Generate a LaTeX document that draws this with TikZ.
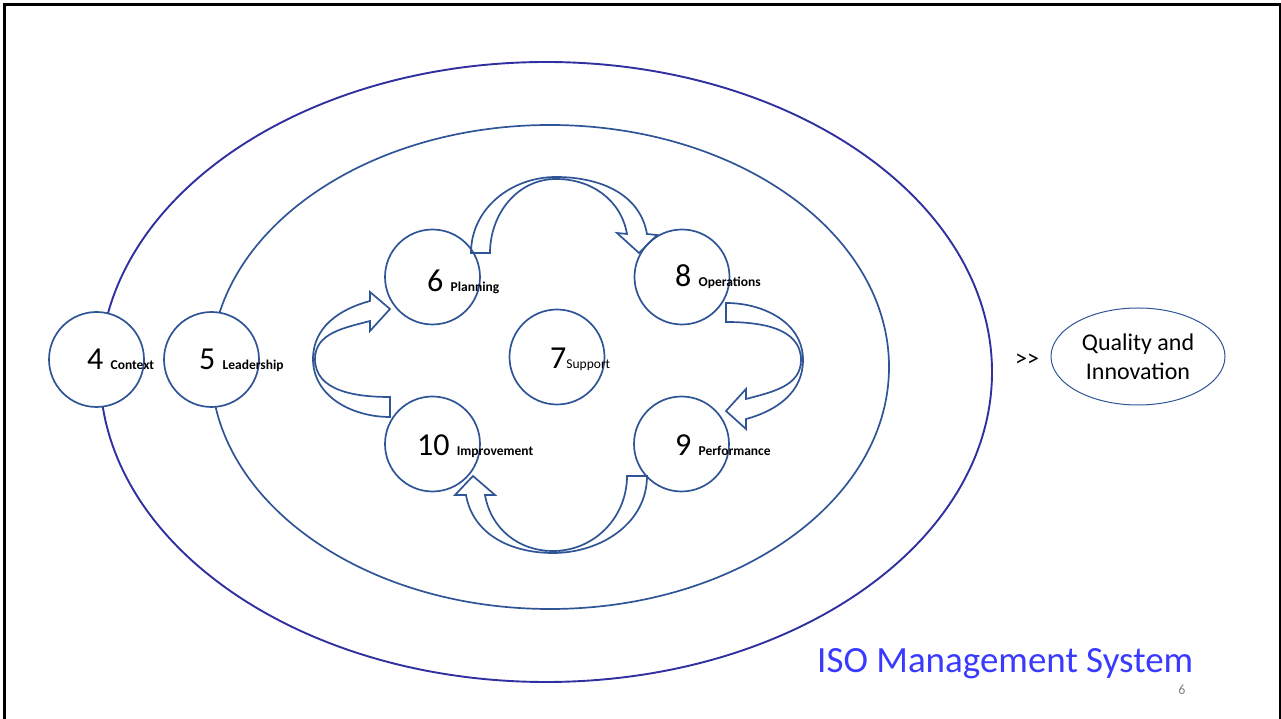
\documentclass[tikz,border=0pt]{standalone}
\usepackage{fontspec}
\setmainfont{Carlito}
\usetikzlibrary{shapes.geometric}

\definecolor{clauseblue}{RGB}{47,85,151}
\definecolor{ringblue}{RGB}{48,48,160}
\definecolor{isoblue}{RGB}{58,58,255}
\newcommand{\clabel}[1]{{\fontsize{13.5}{16}\selectfont\bfseries #1}}

\begin{document}
\begin{tikzpicture}
		[x=1pt,y=1pt,line cap=round,
		%Styles
		outer ring/.style={draw=ringblue,line width=1.9pt},
		inner ring/.style={draw=clauseblue,line width=1.7pt},
		clause/.style={circle,draw=clauseblue,fill=white,line width=1.7pt,minimum size=95pt,inner sep=0pt},
		clause text/.style={anchor=base west,inner sep=0pt,font=\fontsize{32}{38}\selectfont},
		block arrow/.style={draw=clauseblue,line width=1.7pt,line join=miter}
		]
		
		\useasboundingbox (0,0) rectangle (1281,719);
		
		%Frame
		\draw[line width=2.5pt,line cap=rect] (4.5,0) -- (4.5,714.5) -- (1280,714.5) -- (1280,0);
		
		%The rings
		\draw[outer ring] (546,347) ellipse [x radius=446,y radius=310];
		\draw[inner ring] (550,352) ellipse [x radius=339,y radius=242];
		
		%The clauses
		\node[clause] (ctx) at (96.5,359.5) {};
		\node[clause] (lead) at (211.5,359.5) {};
		\node[clause] (plan) at (432.5,442) {};
		\node[clause] (oper) at (682,442) {};
		\node[clause] (supp) at (557,362) {};
		\node[clause] (impr) at (432.5,275) {};
		\node[clause] (perf) at (681.5,275) {};
		
		%Block arrows
		\draw[block arrow] (471,466) to[out=90,in=180] (556,542) to[out=0,in=100] (647,485) -- (657,484) -- (639,466) -- (617,486) -- (627,485) to[out=100,in=0] (556,540) to[out=180,in=90] (490,466) -- cycle;
		\draw[block arrow] (726,416) to[out=0,in=90] (803,359) to[out=270,in=15] (746,300) -- (746,290) -- (726,308) -- (746,330) -- (746,320) to[out=15,in=270] (801,359) to[out=90,in=0] (726,397) -- cycle;
		\draw[block arrow] (647,243) to[out=270,in=0] (553,166) to[out=180,in=280] (466,224) -- (455,224) -- (473,243) -- (495,224) -- (485,224) to[out=280,in=180] (553,168) to[out=0,in=270] (627,243) -- cycle;
		\draw[block arrow] (390,302) to[out=180,in=270] (313,360) to[out=90,in=195] (370,418) -- (370,427) -- (390,410) -- (370,388) -- (370,398) to[out=195,in=90] (315,360) to[out=270,in=180] (390,322) -- cycle;
		
		%Clause texts
		\node[clause text] (ctx-t) at (87,349) {4 \clabel{Context}};
		\node[clause text] (lead-t) at (199,349) {5 \clabel{Leadership}};
		\node[clause text] (plan-t) at (427,427) {6 \clabel{Planning}};
		\node[clause text] (oper-t) at (675,432) {8 \clabel{Operations}};
		\node[clause text] (supp-t) at (550,350) {7{\fontsize{13.5}{16}\selectfont Support}};
		\node[clause text] (impr-t) at (417,263) {10 \clabel{Improvement}};
		\node[clause text] (perf-t) at (675,263) {9 \clabel{Performance}};
		
		%Outcome
		\node[anchor=base,inner sep=0pt,font=\fontsize{24}{28}\selectfont] (more) at (1027,352) {{>}{>}};
		\node[ellipse,draw=clauseblue,line width=1pt,minimum width=174pt,minimum height=97pt,inner sep=0pt,align=center,font=\fontsize{24}{29}\selectfont] (goal) at (1138,362.5) {Quality and\\Innovation};
		
		%Title
		\node[anchor=base west,inner sep=0pt,text=isoblue,font=\fontsize{37}{44}\selectfont] (title) at (817,46) {ISO Management System};
		\node[anchor=base,inner sep=0pt,text=gray,font=\fontsize{14}{16}\selectfont] (page) at (1182,24) {6};
	\end{tikzpicture}
\end{document}
